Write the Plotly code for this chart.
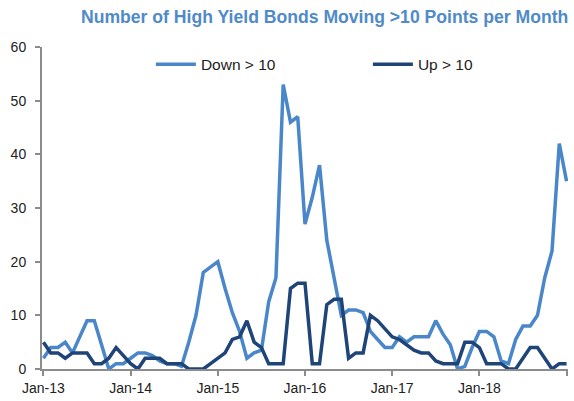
import plotly.graph_objects as go
import pandas as pd

months = pd.date_range("2013-01-01", "2019-01-01", freq="MS")
month_index = list(range(len(months)))

down_gt_10 = [2, 4, 4, 5, 3, 6, 9, 9, 4.5, 0, 1, 1,
              2, 3, 3, 2.5, 1.5, 1, 1, 0.5, 5, 10, 18, 19,
              20, 15, 10.5, 7, 2, 3, 3.5, 12.5, 17, 53, 46, 47,
              27, 32, 38, 24, 17, 10, 11, 11, 10.5, 7, 5.5, 4,
              4, 6, 5, 6, 6, 6, 9, 6.5, 4.5, 0, 0.5, 4,
              7, 7, 6, 1.5, 1, 5.5, 8, 8, 10, 17, 22, 42,
              35]
up_gt_10 = [5, 3, 3, 2, 3, 3, 3, 1, 1, 2, 4, 2.5,
            1, 0, 2, 2, 2, 1, 1, 1, 0, 0, 0, 1,
            2, 3, 5.5, 6, 9, 5, 4, 1, 1, 1, 15, 16,
            16, 1, 1, 12, 13, 13, 2, 3, 3, 10, 9, 7.5,
            6, 5.5, 4.5, 3.5, 3, 3, 1.5, 1, 1, 1, 5, 5,
            4, 1, 1, 1, 0, 0, 2, 4, 4, 2, 0, 1,
            1]

tick_positions = [i for i, m in enumerate(months) if m.month == 1]
tick_labels = [months[i].strftime("%b-%y") for i in tick_positions]
tick_labels[-1] = ""
y_ticks = [0, 10, 20, 30, 40, 50, 60]

LIGHT = "#4A87CA"
DARK = "#1F4478"

fig = go.Figure()
fig.add_trace(go.Scatter(x=month_index, y=down_gt_10, mode="lines", name="Down > 10",
                         line=dict(color=LIGHT, width=3.5), cliponaxis=False))
fig.add_trace(go.Scatter(x=month_index, y=up_gt_10, mode="lines", name="Up > 10",
                         line=dict(color=DARK, width=3.5), cliponaxis=False))

W, H = 574, 401
L, R, T, B = 41.5, 5.5, 47, 32

fig.update_layout(
    width=W, height=H,
    margin=dict(l=L, r=R, t=T, b=B, autoexpand=False),
    paper_bgcolor="white", plot_bgcolor="white",
    font=dict(family="Liberation Sans, Arial, sans-serif", size=14, color="#222"),
    title=dict(text="<b>Number of High Yield Bonds Moving >10 Points per Month</b>",
               font=dict(family="Liberation Sans, Arial, sans-serif", size=17.6, color="#4F8AC9"),
               xref="container", yref="container", x=0.99, xanchor="right",
               y=1 - 17 / H, yanchor="middle"),
    showlegend=True,
    legend=dict(orientation="h", x=0.207, xanchor="left", y=0.998, yanchor="top",
                bgcolor="rgba(0,0,0,0)", font=dict(size=15.5, color="#222"),
                entrywidth=162, entrywidthmode="pixels", itemwidth=40),
)
fig.update_xaxes(range=[-0.2, 72.2], tickmode="array", tickvals=tick_positions,
                 ticktext=tick_labels, showgrid=False, zeroline=False,
                 showline=True, linecolor="#8C8C8C", linewidth=2,
                 ticks="outside", ticklen=5, tickcolor="#8C8C8C", tickwidth=1.5,
                 tickfont=dict(size=14))
fig.update_yaxes(range=[0, 60], tickmode="array", tickvals=y_ticks,
                 showgrid=False, zeroline=False,
                 showline=True, linecolor="#8C8C8C", linewidth=2,
                 ticks="outside", ticklen=5, tickcolor="#8C8C8C", tickwidth=1.5,
                 ticklabelstandoff=6, tickfont=dict(size=14))

fig.write_html("out.html")
